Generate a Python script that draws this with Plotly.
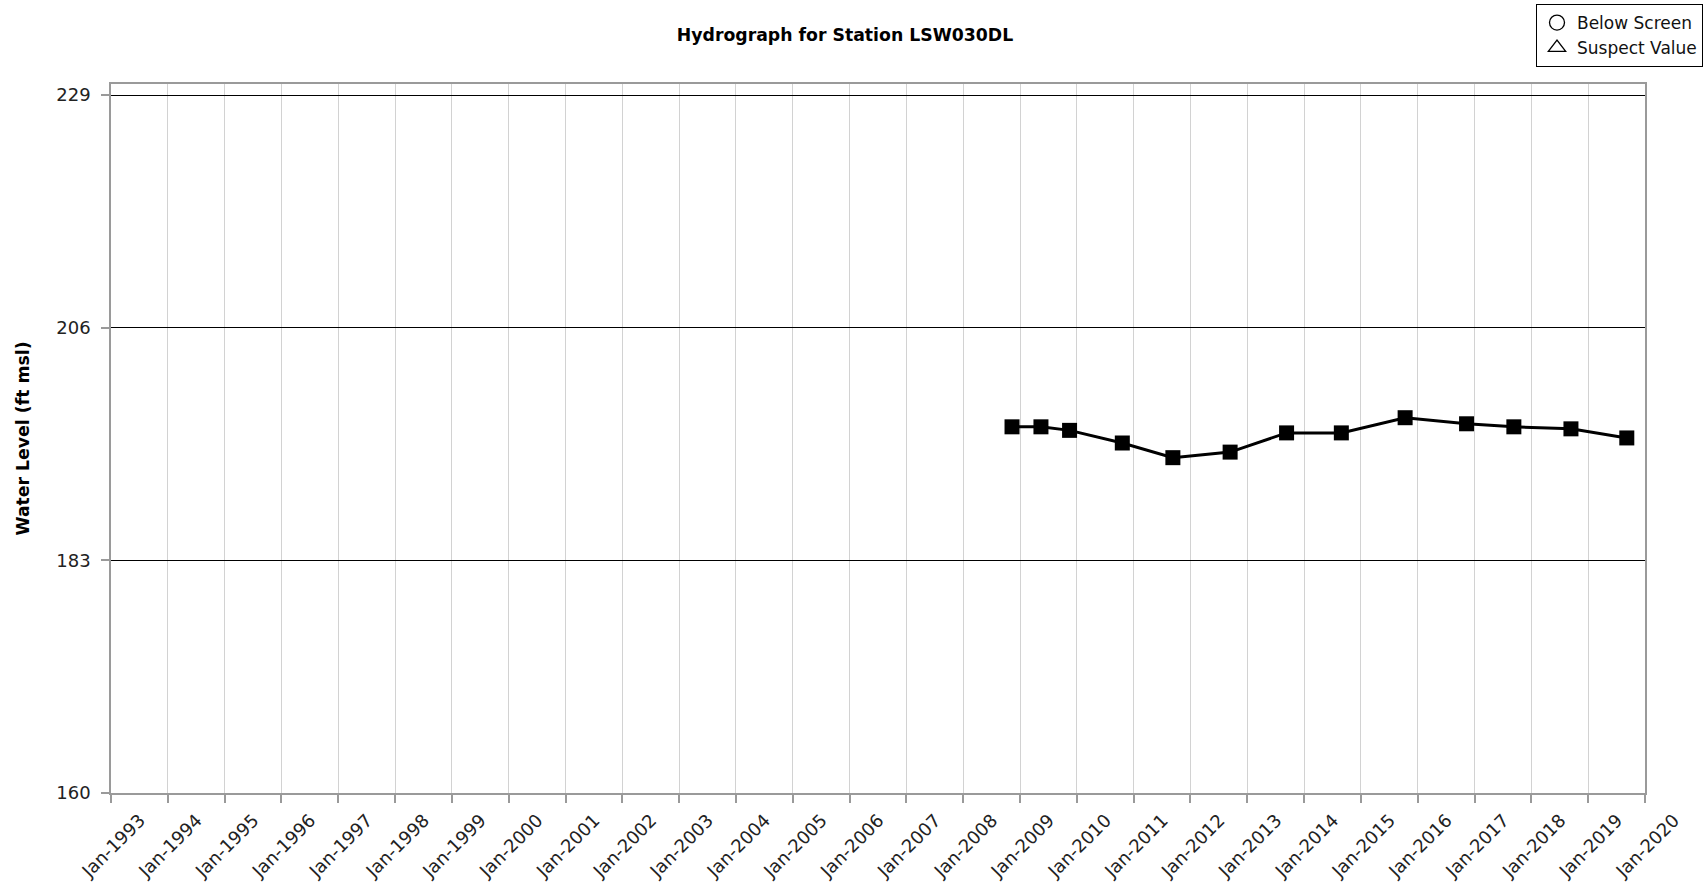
import plotly.graph_objects as go

# Water level observations for station LSW030DL
sample_dates = [
    "2008-11-10", "2009-05-15", "2009-11-15", "2010-10-20", "2011-09-10",
    "2012-09-12", "2013-09-10", "2014-08-28", "2015-10-12", "2016-11-10",
    "2017-09-10", "2018-09-12", "2019-09-06",
]
water_levels = [
    196.2, 196.2, 195.85, 194.6, 193.15,
    193.7, 195.6, 195.6, 197.1, 196.5,
    196.2, 196.0, 195.1,
]

# Flag categories (no flagged readings at this station)
below_screen_dates = [None]
below_screen_levels = [None]
suspect_dates = [None]
suspect_levels = [None]

y_tick_values = [160, 183, 206, 229]

fig = go.Figure()

fig.add_trace(go.Scatter(
    x=sample_dates, y=water_levels,
    mode="lines+markers",
    line=dict(color="black", width=3),
    marker=dict(symbol="square", size=15, color="black"),
    showlegend=False,
    name="Water Level",
))
fig.add_trace(go.Scatter(
    x=below_screen_dates, y=below_screen_levels,
    mode="markers",
    marker=dict(symbol="circle-open", size=15, color="black", line=dict(width=1.3)),
    name="Below Screen",
))
fig.add_trace(go.Scatter(
    x=suspect_dates, y=suspect_levels,
    mode="markers",
    marker=dict(symbol="triangle-up-open", size=15, color="black", line=dict(width=1.3)),
    name="Suspect Value",
))

frame_color = "#9a9a9a"
label_font = "DejaVu Sans"

fig.update_layout(
    width=1704, height=884,
    margin=dict(l=111, r=59, t=84, b=91, autoexpand=False),
    paper_bgcolor="white",
    plot_bgcolor="white",
    font=dict(family=label_font, size=18, color="#222222"),
    title=dict(
        text="<b>Hydrograph for Station LSW030DL</b>",
        font=dict(family=label_font, size=17.3, color="black"),
        x=845 / 1704, xref="container", xanchor="center",
        y=1 - 35 / 884, yref="container", yanchor="middle",
    ),
    legend=dict(
        x=1703 / 1704, xref="container", xanchor="right",
        y=1 - 4 / 884, yref="container", yanchor="top",
        bordercolor="black", borderwidth=1,
        bgcolor="white",
        font=dict(family=label_font, size=17, color="#111111"),
        itemwidth=30,
        tracegroupgap=0,
    ),
    xaxis=dict(
        type="date",
        range=["1993-01-01", "2020-01-01"],
        tick0="1993-01-01", dtick="M12",
        tickformat="%b-%Y",
        tickangle=-45,
        ticklabelshift=29,
        automargin=False,
        showgrid=True, gridcolor="#d2d2d2", gridwidth=1.2,
        showline=True, linecolor=frame_color, linewidth=1.5, mirror=True,
        ticks="outside", ticklen=8, tickcolor=frame_color, tickwidth=1.5,
        tickfont=dict(family=label_font, size=18, color="#222222"),
        zeroline=False,
    ),
    yaxis=dict(
        range=[160, 230.09],
        tickvals=y_tick_values,
        automargin=False,
        showgrid=True, gridcolor="black", gridwidth=1.4,
        showline=True, linecolor=frame_color, linewidth=1.5, mirror=True,
        ticks="outside", ticklen=8, tickcolor=frame_color, tickwidth=1.5,
        ticklabelstandoff=7,
        tickfont=dict(family=label_font, size=18, color="#222222"),
        title=dict(
            text="<b>Water Level (ft msl)</b>",
            font=dict(family=label_font, size=17.3, color="black"),
            standoff=22,
        ),
        zeroline=False,
    ),
)

fig.write_html("out.html")
